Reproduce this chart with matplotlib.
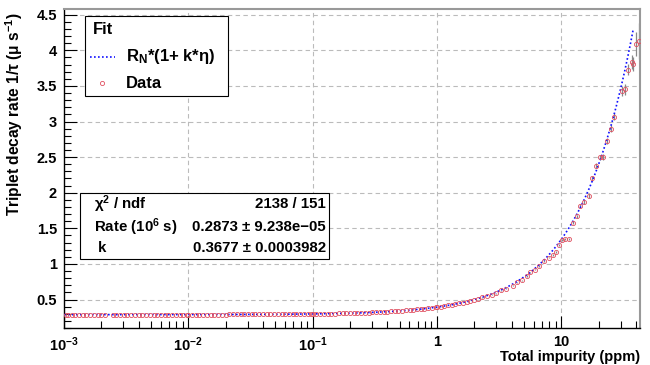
import matplotlib
matplotlib.use("Agg")
import matplotlib.pyplot as plt
import numpy as np
from matplotlib.patches import Rectangle
from matplotlib.lines import Line2D
from matplotlib.ticker import FixedLocator, FuncFormatter, MultipleLocator, LogLocator, NullFormatter

plt.rcParams['font.family'] = ['Liberation Sans', 'DejaVu Sans']
plt.rcParams['mathtext.fontset'] = 'custom'
plt.rcParams['mathtext.rm'] = 'Liberation Sans:bold'
plt.rcParams['mathtext.bf'] = 'Liberation Sans:bold'
plt.rcParams['mathtext.it'] = 'Liberation Sans:bold:italic'

# fit parameters from the stats box
rate_n = 0.2873
k_fit = 0.3677
fit_xmax = 38.0

# data points
x_low = [0.00104, 0.00108, 0.00115, 0.00123, 0.00132, 0.00141, 0.00151, 0.00162,
         0.00174, 0.00186, 0.00200, 0.00214, 0.00246, 0.00263, 0.00282, 0.00302,
         0.00324, 0.00347, 0.00372, 0.00398, 0.00427, 0.00457, 0.00490, 0.00525,
         0.00562, 0.00603, 0.00646, 0.00692, 0.00741, 0.00794, 0.00851, 0.00912,
         0.00977,
         0.0100, 0.0107, 0.0115, 0.0123, 0.0132, 0.0141, 0.0151, 0.0162, 0.0174,
         0.0186, 0.0200, 0.0214, 0.0229, 0.0246, 0.0263, 0.0282, 0.0302, 0.0324,
         0.0347, 0.0372, 0.0398, 0.0427, 0.0457, 0.0490, 0.0525, 0.0562, 0.0603,
         0.0646, 0.0692, 0.0741, 0.0794, 0.0851, 0.0912, 0.0977,
         0.100, 0.107, 0.115, 0.123, 0.132, 0.141, 0.151, 0.162, 0.174, 0.186,
         0.200, 0.214, 0.229, 0.246, 0.263, 0.282, 0.302, 0.324, 0.347, 0.372,
         0.398, 0.427, 0.457, 0.490, 0.525, 0.562, 0.603, 0.646, 0.692, 0.741,
         0.794, 0.851, 0.912, 0.977,
         1.00, 1.07, 1.15, 1.23, 1.32, 1.41, 1.51, 1.62, 1.74, 1.86, 2.00, 2.14]
y_low = [0.287, 0.287, 0.287, 0.287, 0.287, 0.287, 0.287, 0.287, 0.287, 0.287,
         0.287, 0.287, 0.287, 0.287, 0.288, 0.288, 0.288, 0.288, 0.288, 0.288,
         0.288, 0.288, 0.288, 0.288, 0.288, 0.288, 0.288, 0.288, 0.288, 0.288,
         0.288, 0.288, 0.288,
         0.288, 0.288, 0.289, 0.289, 0.289, 0.289, 0.289, 0.289, 0.289, 0.289,
         0.289, 0.290, 0.290, 0.290, 0.290, 0.290, 0.291, 0.291, 0.291, 0.291,
         0.292, 0.292, 0.292, 0.292, 0.293, 0.293, 0.294, 0.294, 0.295, 0.295,
         0.296, 0.296, 0.297, 0.298,
         0.298, 0.299, 0.299, 0.300, 0.301, 0.302, 0.303, 0.304, 0.306, 0.307,
         0.308, 0.310, 0.312, 0.313, 0.315, 0.317, 0.319, 0.322, 0.324, 0.327,
         0.329, 0.332, 0.336, 0.339, 0.343, 0.347, 0.351, 0.356, 0.360, 0.366,
         0.371, 0.377, 0.384, 0.391,
         0.393, 0.400, 0.409, 0.417, 0.427, 0.436, 0.447, 0.458, 0.471, 0.484,
         0.499, 0.513]
x_high = [2.3, 2.52, 2.76, 3.0, 3.3, 3.6, 4.1, 4.4, 4.8, 5.3, 5.6, 6.1, 6.6,
          7.2, 7.9, 8.6, 9.0, 9.6, 10.2, 10.8, 11.5, 12.4, 13.4, 14.2, 15.3,
          16.6, 17.8, 19.1, 20.4, 21.7, 23.4, 25.2, 26.7, 30.8, 32.4, 34.5,
          37.2, 37.9, 40.0, 42.0]
y_high = [0.53, 0.55, 0.57, 0.59, 0.63, 0.65, 0.69, 0.74, 0.77, 0.83, 0.88, 0.92,
          0.97, 1.04, 1.09, 1.13, 1.17, 1.26, 1.34, 1.35, 1.35, 1.58, 1.67, 1.81,
          1.87, 1.96, 2.20, 2.38, 2.50, 2.50, 2.73, 2.90, 3.07, 3.43, 3.45, 3.73,
          3.84, 3.81, 4.09, 4.13]
e_high = [0.005, 0.005, 0.005, 0.006, 0.006, 0.007, 0.007, 0.008, 0.008, 0.009,
          0.01, 0.01, 0.01, 0.012, 0.012, 0.013, 0.014, 0.015, 0.016, 0.017,
          0.02, 0.02, 0.022, 0.025, 0.025, 0.028, 0.03, 0.032, 0.035, 0.04,
          0.04, 0.045, 0.05, 0.07, 0.08, 0.08, 0.1, 0.1, 0.17, 0.25]

xtick_pos = [0.001, 0.01, 0.1, 1, 10]
xtick_txt = [r'$\mathbf{10^{-3}}$', r'$\mathbf{10^{-2}}$', r'$\mathbf{10^{-1}}$', '1', '10']

W, H = 650, 365
fig = plt.figure(figsize=(6.5, 3.65), dpi=100)
ax = fig.add_axes([64 / W, 1 - 328 / H, 576 / W, 319 / H])


def px(x, y):
    return (x / W, 1 - y / H)


ax.set_xscale('log')
ax.set_xlim(0.001, 43)
ax.set_ylim(0.1, 4.58)

# fit curve
xf = np.logspace(-3, np.log10(fit_xmax), 400)
ax.plot(xf, rate_n * (1 + k_fit * xf), color='#1010ff', lw=1.2,
        linestyle=(0, (1, 1.4)), zorder=3)

# data
ax.errorbar(x_high, y_high, yerr=e_high, fmt='none', ecolor='#888888',
            elinewidth=0.9, zorder=2)
ax.plot(x_low + x_high, y_low + y_high, linestyle='none', marker='o',
        markersize=3.0, markerfacecolor='none', markeredgecolor='#e05060',
        markeredgewidth=0.6, zorder=4)

# grid and ticks
ax.grid(True, which='major', color='#bbbbbb', linestyle=(0, (4, 3)), lw=0.8)
ax.yaxis.set_major_locator(MultipleLocator(0.5))
ax.yaxis.set_minor_locator(MultipleLocator(0.1))
ax.xaxis.set_major_locator(FixedLocator(xtick_pos))
ax.xaxis.set_major_formatter(FuncFormatter(lambda v, p: xtick_txt[p] if p is not None and p < len(xtick_txt) else ''))
ax.xaxis.set_minor_locator(LogLocator(base=10, subs=np.arange(2, 10), numticks=20))
ax.xaxis.set_minor_formatter(NullFormatter())
ax.set_yticks([0.5, 1, 1.5, 2, 2.5, 3, 3.5, 4, 4.5])
ax.set_yticklabels(['0.5', '1', '1.5', '2', '2.5', '3', '3.5', '4', '4.5'])
ax.tick_params(which='both', direction='in', top=False, right=False)
ax.tick_params(which='major', length=9, width=0.8, labelsize=10.5, pad=5)
ax.tick_params(which='minor', length=5, width=0.8)
for lab in ax.get_xticklabels() + ax.get_yticklabels():
    lab.set_fontweight('bold')
for s in ['left', 'bottom']:
    ax.spines[s].set_linewidth(1.0)
for s in ['top', 'right']:
    ax.spines[s].set_color('#999999')
    ax.spines[s].set_linewidth(1.5)

# axis titles
fig.text(*px(640, 357), 'Total impurity (ppm)', ha='right', va='center',
         fontsize=10.5, fontweight='bold')
fig.text(*px(14, 12), r'Triplet decay rate 1/τ (μ s$^{\mathbf{-1}}$)', ha='center',
         va='top', rotation=90, fontsize=11.2, fontweight='bold')

# legend box
x0, y0 = px(85, 96)
x1, y1 = px(228, 16)
fig.patches.append(Rectangle((x0, y0), x1 - x0, y1 - y0, transform=fig.transFigure,
                             facecolor='white', edgecolor='black', lw=0.8, zorder=5))
fig.text(*px(93, 30), 'Fit', ha='left', va='center', fontsize=12, fontweight='bold', zorder=6)
lx0, ly = px(90, 57)
lx1, _ = px(115, 57)
fig.lines.append(Line2D([lx0, lx1], [ly, ly], transform=fig.transFigure, color='#1010ff',
                        lw=1.2, linestyle=(0, (1, 1.4)), zorder=6))
fig.text(*px(126, 57), r'R$_{\mathbf{N}}$*(1+ k*η)', ha='left', va='center',
         fontsize=12, fontweight='bold', zorder=6)
mx, my = px(102, 83)
fig.lines.append(Line2D([mx], [my], transform=fig.transFigure, marker='o', markersize=3.0,
                        markerfacecolor='none', markeredgecolor='#e05060',
                        markeredgewidth=0.6, zorder=6))
fig.text(*px(126, 83), 'Data', ha='left', va='center', fontsize=12, fontweight='bold', zorder=6)

# stats box
x0, y0 = px(80, 259)
x1, y1 = px(329, 193)
fig.patches.append(Rectangle((x0, y0), x1 - x0, y1 - y0, transform=fig.transFigure,
                             facecolor='white', edgecolor='black', lw=0.8, zorder=5))
stat_left = [r'χ$^{\mathbf{2}}$ / ndf', r'Rate (10$^{\mathbf{6}}$ s)', ' k']
stat_right = ['2138 / 151', '0.2873 ± 9.238e−05', '0.3677 ± 0.0003982']
for i, yy in enumerate([204, 227, 248]):
    fig.text(*px(94, yy), stat_left[i], ha='left', va='center', fontsize=10.8,
             fontweight='bold', zorder=6)
    fig.text(*px(326, yy), stat_right[i], ha='right', va='center', fontsize=10.8,
             fontweight='bold', zorder=6)

fig.savefig('out.png', dpi=100)
